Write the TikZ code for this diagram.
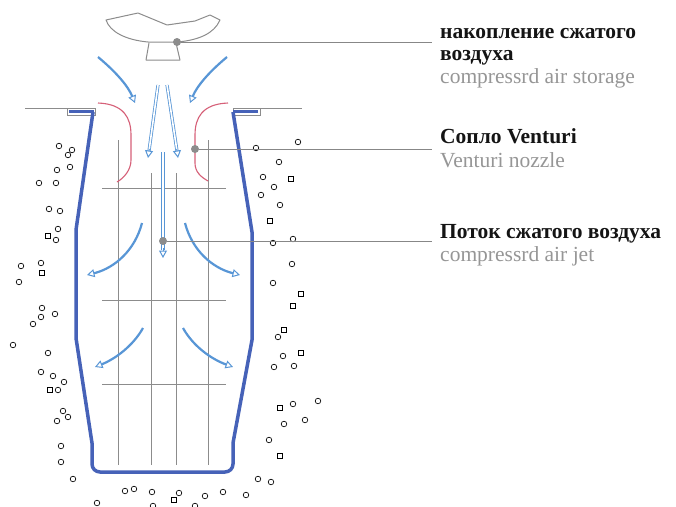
\documentclass[tikz,border=0pt]{standalone}
\usepackage{fontspec}
\setmainfont{Liberation Serif}
\usetikzlibrary{arrows.meta}
\definecolor{tankblue}{RGB}{70,98,184}
\definecolor{flowblue}{RGB}{88,150,214}
\definecolor{nozzlered}{RGB}{214,96,120}
\definecolor{gridgray}{RGB}{140,140,140}
\definecolor{leadgray}{RGB}{135,135,135}
\definecolor{engtext}{RGB}{150,150,150}
\definecolor{rutext}{RGB}{20,20,20}
\tikzset{
  tank/.style={draw=tankblue, line width=3.5pt, line join=round},
  gridline/.style={draw=gridgray, line width=0.9pt},
  nozzle/.style={draw=nozzlered, line width=1.1pt},
  flow/.style={draw=flowblue, line width=2.2pt, -{Triangle[open, length=7.5pt, width=8pt, line width=1pt]}},
  jet/.style={draw=flowblue, line width=0.8pt, double=white, double distance=1.6pt},
  jettip/.style={draw=flowblue, line width=1pt, -{Triangle[open, length=7.5pt, width=8pt]}},
  leader/.style={draw=leadgray, line width=0.9pt},
  dotmark/.style={circle, fill=gridgray, inner sep=0pt, minimum size=8pt},
  storage/.style={draw=gridgray, line width=1pt, line join=round},
  grain/.style={draw=black, line width=0.65pt},
  rulabel/.style={anchor=base west, inner sep=0pt, text=rutext, font=\bfseries\fontsize{21.5}{24}\selectfont},
  enlabel/.style={anchor=base west, inner sep=0pt, text=engtext, font=\fontsize{21.5}{24}\selectfont}
}
\begin{document}
\begin{tikzpicture}[x=1pt, y=-1pt]
\useasboundingbox[fill=white] (0,0) rectangle (676,506);

% ground surface
\draw[gridline] (25,108) -- (95,108);
\draw[gridline] (233,108) -- (302,108);

% compressed air storage
\draw[storage] (106,20) -- (138,13) -- (167,25) -- (195,21) -- (210,15) -- (220,20)
  .. controls (214,34) and (198,40) .. (178,42) -- (148,42)
  .. controls (126,40) and (110,32) .. (106,20) -- cycle;
\draw[storage] (149,43) -- (146,60) -- (180,60) -- (176,43);

% grid inside the shaft
\foreach \x/\y in {118/140, 151/173, 176/173, 208/140}
  \draw[gridline] (\x,\y) -- (\x,465);
\foreach \y in {188, 300, 384}
  \draw[gridline] (102,\y) -- (226,\y);

% shaft lips
\draw[draw=gridgray, line width=0.7pt] (67,108) rectangle (95,115);
\draw[draw=gridgray, line width=0.7pt] (233,108) rectangle (260,115);
\draw[tankblue, line width=3.2pt] (69,111.5) -- (94,111.5);
\draw[tankblue, line width=3.2pt] (233,111.5) -- (258,111.5);

% shaft wall
\draw[tank] (93,112) -- (76,230) -- (76,338) -- (92,443) -- (92,464)
  to[out=-90, in=180] (100,472) -- (225,472) to[out=0, in=-90] (233,464)
  -- (233,443) -- (252,340) -- (252,232) -- (233,112);

% Venturi nozzle
\draw[nozzle] (98,103) .. controls (124,104) and (131,118) .. (131,135) -- (131,160)
  .. controls (131,170) and (124,178) .. (117,182);
\draw[nozzle] (228,103) .. controls (202,104) and (195,118) .. (195,135) -- (195,163)
  .. controls (195,172) and (201,177) .. (208,181);

% air flow
\draw[flow] (98,57) .. controls (116,72) and (128,86) .. (135,103);
\draw[flow] (227,57) .. controls (209,72) and (197,86) .. (190,103);
\draw[jet] (158,85) -- (149,151);
\draw[jettip] (149.3,149) -- (148,158);
\draw[jet] (167,85) -- (177,151);
\draw[jettip] (176.7,149) -- (178,158);
\draw[jet] (163,152) -- (163,250);
\draw[jettip] (163,248) -- (163,258);
\draw[flow] (142,223) .. controls (135,250) and (115,268) .. (87,275);
\draw[flow] (185,223) .. controls (192,250) and (212,268) .. (240,275);
\draw[flow] (143,328) .. controls (133,346) and (115,359) .. (95,367);
\draw[flow] (183,328) .. controls (193,346) and (211,359) .. (233,367);

% soil grains: circles
\foreach \x/\y in {
  59/146, 72/150, 68/155, 70/167, 57/170, 39/183, 56/183, 49/209, 60/211, 58/229,
  56/240, 21/266, 41/263, 19/282, 42/308, 41/317, 55/314, 33/324, 13/345, 48/353,
  41/372, 53/376, 64/382, 58/390, 63/411, 68/417, 57/421, 61/446, 61/462, 73/479,
  97/503,
  298/142, 256/148, 279/162, 263/177, 274/187, 261/195, 280/205, 273/243, 293/239,
  292/264, 273/283, 278/337, 283/356, 274/367, 294/366, 318/401, 293/404, 284/424,
  305/420, 269/440, 258/479, 271/482, 246/495,
  125/491, 134/489, 152/492, 179/493, 205/496, 223/492, 153/506, 195/506}
  \draw[grain] (\x,\y) circle (2.8pt);
% soil grains: squares
\foreach \x/\y in {
  48/236, 42/273, 50/390, 291/179, 270/221, 301/294, 293/306, 284/330, 301/353,
  280/408, 280/456, 174/500}
  \draw[grain] (\x-2.5,\y-2.5) rectangle (\x+2.5,\y+2.5);

% leaders and labels
\node[dotmark] (pStore) at (177,42) {};
\node[dotmark] (pNozzle) at (195,149) {};
\node[dotmark] (pJet) at (163,241) {};
\coordinate (eStore) at (432,42);
\coordinate (eNozzle) at (432,149);
\coordinate (eJet) at (432,241);
\draw[leader] (pStore) -- (eStore);
\draw[leader] (pNozzle) -- (eNozzle);
\draw[leader] (pJet) -- (eJet);

\node[rulabel] (tStore1) at (440,38) {накопление сжатого};
\node[rulabel] (tStore2) at (440,60) {воздуха};
\node[enlabel] (tStore3) at (440,83) {compressrd air storage};
\node[rulabel] (tNozzle1) at (440,143) {Сопло Venturi};
\node[enlabel] (tNozzle2) at (440,167) {Venturi nozzle};
\node[rulabel] (tJet1) at (440,238) {Поток сжатого воздуха};
\node[enlabel] (tJet2) at (440,261) {compressrd air jet};
\end{tikzpicture}
\end{document}
